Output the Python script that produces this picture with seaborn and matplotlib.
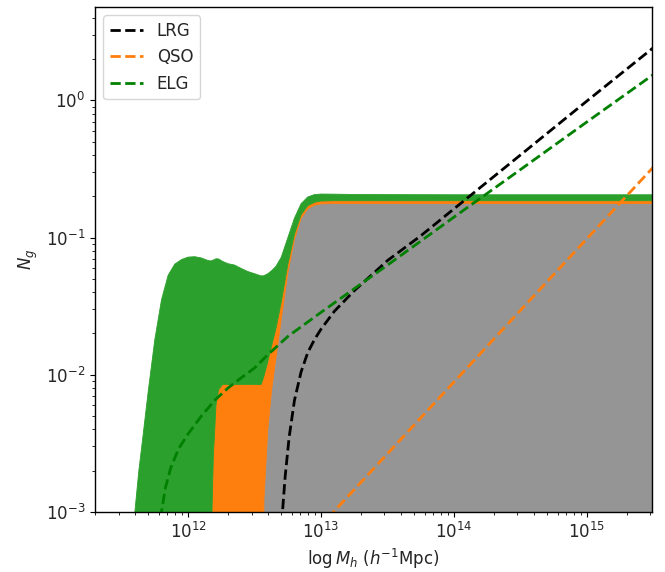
import numpy as np
import matplotlib
matplotlib.use("Agg")
import matplotlib.pyplot as plt
import seaborn as sns

# ---- data ----
# common log-mass grid for the stacked central occupations
logM_cen = [11.55, 11.60, 11.63, 11.66, 11.70, 11.75, 11.80, 11.85, 11.90, 11.95,
            12.00, 12.05, 12.10, 12.15, 12.17, 12.18, 12.19, 12.21, 12.23, 12.26,
            12.30, 12.35, 12.40, 12.45, 12.50, 12.55, 12.57, 12.60, 12.63, 12.66,
            12.70, 12.75, 12.80, 12.85, 12.90, 12.95, 13.00, 13.10, 13.25, 13.50,
            14.00, 14.50, 15.00, 15.60]
lrg_cen = [0, 0, 0, 0, 0, 0, 0, 0, 0, 0,
           0, 0, 0, 0, 0, 0, 0, 0, 0, 0,
           0, 0, 0, 0, 0, 0, 0.0012, 0.004, 0.008, 0.013,
           0.025, 0.055, 0.097, 0.138, 0.162, 0.172, 0.176, 0.177, 0.177, 0.177,
           0.177, 0.177, 0.177, 0.177]
qso_cen = [0, 0, 0, 0, 0, 0, 0, 0, 0, 0,
           0, 0, 0, 0, 0, 0.001, 0.0025, 0.006, 0.0078, 0.0085,
           0.0085, 0.0085, 0.0085, 0.0085, 0.0085, 0.0085, 0.0085, 0.0085, 0.0085, 0.0085,
           0.0085, 0.0085, 0.0085, 0.0085, 0.0085, 0.0085, 0.0085, 0.0085, 0.0085, 0.0085,
           0.0085, 0.0085, 0.0085, 0.0085]
elg_cen = [0, 0.001, 0.002, 0.0035, 0.0075, 0.018, 0.035, 0.053, 0.064, 0.069,
           0.072, 0.0725, 0.071, 0.068, 0.0675, 0.067, 0.066, 0.064, 0.062, 0.0585,
           0.056, 0.0545, 0.051, 0.048, 0.046, 0.044, 0.043, 0.042, 0.041, 0.040,
           0.038, 0.036, 0.033, 0.030, 0.027, 0.025, 0.023, 0.0215, 0.0205, 0.020,
           0.0195, 0.0195, 0.0195, 0.0195]

# satellite occupations (dashed lines)
logM_lrg_sat = [12.70, 12.71, 12.73, 12.76, 12.80, 12.85, 12.90, 12.95, 13.00, 13.10,
                13.25, 13.50, 13.75, 14.00, 14.50, 15.00, 15.60]
lrg_sat = [0.0005, 0.001, 0.0018, 0.0035, 0.0065, 0.0105, 0.0145, 0.018, 0.0215, 0.029,
           0.041, 0.068, 0.103, 0.162, 0.40, 0.99, 2.9]
logM_qso_sat = [13.05, 13.50, 14.00, 14.50, 15.00, 15.60]
qso_sat = [0.0009, 0.00266, 0.00886, 0.0295, 0.0982, 0.416]
logM_elg_sat = [11.79, 11.80, 11.83, 11.87, 11.93, 12.00, 12.10, 12.20, 12.30, 12.40,
                12.50, 12.60, 12.75, 13.00, 13.50, 14.00, 14.50, 15.00, 15.60]
elg_sat = [0.0007, 0.001, 0.0015, 0.0021, 0.0029, 0.0037, 0.0050, 0.0065, 0.0080, 0.0095,
           0.0112, 0.0140, 0.019, 0.0285, 0.063, 0.141, 0.313, 0.697, 1.81]

labels = ["LRG", "QSO", "ELG"]

# ---- style ----
sns.set_style("ticks")
plt.rcParams["font.family"] = ["DejaVu Sans"]
plt.rcParams["xtick.direction"] = "out"
plt.rcParams["ytick.direction"] = "out"

fig = plt.figure(figsize=(6.65, 5.72), dpi=100)
ax = fig.add_axes([0.143, 0.105, 0.838, 0.883])

Mc = 10 ** np.array(logM_cen)
fill_colors = ["#959595", "#ff7f0e", "#2ca02c"]
polys = ax.stackplot(Mc, lrg_cen, qso_cen, elg_cen, colors=fill_colors)
for p, c in zip(polys, fill_colors):
    p.set_edgecolor(c)
    p.set_linewidth(0.6)

sns.lineplot(x=10 ** np.array(logM_lrg_sat), y=lrg_sat, ax=ax, color="k",
             linestyle="--", linewidth=2, label=labels[0], sort=False)
sns.lineplot(x=10 ** np.array(logM_qso_sat), y=qso_sat, ax=ax, color="#ff7f0e",
             linestyle="--", linewidth=2, label=labels[1], sort=False)
sns.lineplot(x=10 ** np.array(logM_elg_sat), y=elg_sat, ax=ax, color="green",
             linestyle="--", linewidth=2, label=labels[2], sort=False)

ax.set_xscale("log")
ax.set_yscale("log")
ax.set_xlim(2e11, 3.1e15)
ax.set_ylim(1e-3, 4.8)
ax.set_xlabel(r"$\log M_h$ ($h^{-1}$Mpc)", fontsize=12)
ax.set_ylabel(r"$N_g$", fontsize=12)
ax.tick_params(labelsize=12)
for s in ax.spines.values():
    s.set_linewidth(1.0)
    s.set_color("k")
ax.tick_params(which="both", color="k")
ax.legend(loc="upper left", fontsize=12, frameon=True)

fig.savefig("out.png", dpi=100)
